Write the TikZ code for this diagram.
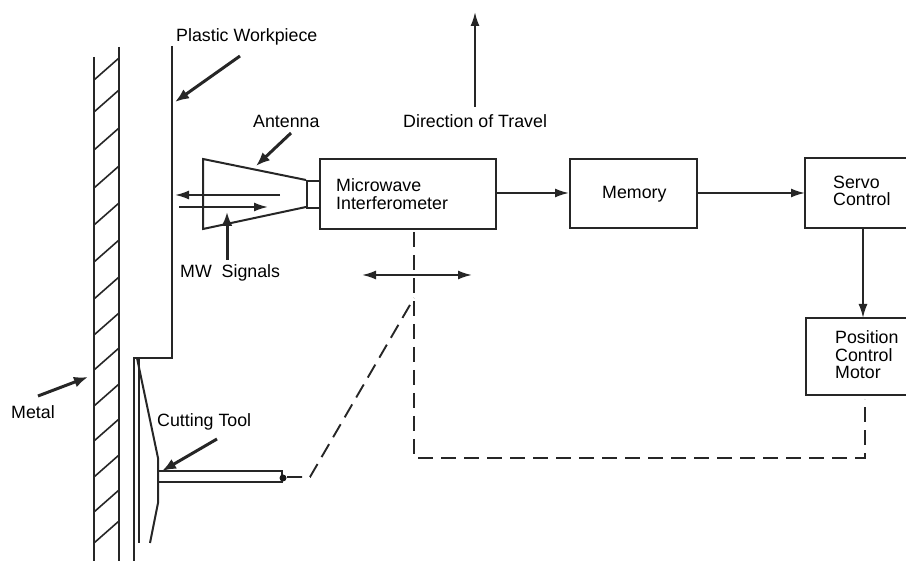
\documentclass[tikz,border=0pt]{standalone}
\usepackage{fontspec}
\setmainfont{Liberation Sans}
\usetikzlibrary{arrows.meta}
\tikzset{
 every picture/.style={x=1pt,y=-1pt},
 ln/.style={line width=2pt,black!85},
 hatchln/.style={line width=1.6pt,black!85},
 lead/.style={line width=3pt,black!85,-{Latex[length=14pt,width=11pt]}},
 sig/.style={line width=1.9pt,black!85,-{Latex[length=14pt,width=9pt]}},
 sigb/.style={line width=1.9pt,black!85,{Latex[length=14pt,width=9pt]}-{Latex[length=14pt,width=9pt]}},
 blockbox/.style={draw=black!85,line width=2.2pt,fill=white,inner sep=0pt,anchor=north west},
 dsh/.style={line width=1.9pt,black!85,dash pattern=on 15pt off 8pt},
 lab/.style={font=\fontsize{17.8}{17.5}\selectfont,text=black,inner sep=0pt,align=left}
}
\begin{document}
\begin{tikzpicture}
\useasboundingbox (0,0) rectangle (906,561);
% metal
\draw[ln] (94,57) -- (94,561);
\draw[ln] (119,47) -- (119,561);
\foreach \y in {80,112,150,188,225,262,299,335,370,406,441,477,512,543}
  \draw[hatchln] (94,\y) -- (119,\y-22);
% workpiece
\coordinate (wt) at (172,46);
\draw[ln] (wt) -- (172,358) -- (134,358) -- (134,561);
% tool
\draw[ln] (139,358) -- (139,543);
\draw[ln] (137,358) -- (158,458) -- (158,503) -- (150,543);
\draw[ln] (158,471) -- (282,471) -- (282,482) -- (158,482);
\fill[black!90] (283,478) circle (3.5pt);
% antenna
\coordinate (a1) at (203,159);
\coordinate (a2) at (203,229);
\coordinate (a3) at (306,180);
\coordinate (a4) at (306,207);
\draw[ln] (a3) -- (a1) -- (a2) -- (a4);
\node[blockbox,minimum width=13pt,minimum height=27pt] (neck) at (306,180) {};
% boxes
\node[blockbox,minimum width=176pt,minimum height=70pt] (mi) at (319,158) {};
\node[blockbox,minimum width=127pt,minimum height=69pt] (mem) at (569,158) {};
\draw[line width=2.2pt,black!85] (906,158) -- (805,158) -- (805,228) -- (906,228);
\draw[line width=2.2pt,black!85] (906,318) -- (806,318) -- (806,395) -- (906,395);
\coordinate (sc) at (805,193);
\coordinate (scb) at (863,228);
\coordinate (pt) at (863,318);
\coordinate (pb) at (865,399);
% labels
\node[lab,anchor=west] (t1) at (176,37) {Plastic Workpiece};
\node[lab,anchor=west] (t2) at (253,121) {Antenna};
\node[lab,anchor=west] (t3) at (403,121) {Direction of Travel};
\node[lab,anchor=west] (t4) at (180,273) {MW\ \ Signals};
\node[lab,anchor=west] (t5) at (157,422) {Cutting Tool};
\node[lab,anchor=west] (t6) at (11,412) {Metal};
\node[lab,anchor=west] (t7) at (336,194) {Microwave\\Interferometer};
\node[lab,anchor=west] (t8) at (602,194) {Memory};
\node[lab,anchor=west] (t9) at (833,191) {Servo\\Control};
\node[lab,anchor=west] (t10) at (835,355) {Position\\Control\\Motor};
% leaders
\draw[lead] (240,56) -- (175,102);
\draw[lead] (291,133) -- (256,166);
\draw[lead] (227,260) -- (227,212);
\draw[lead] (217,439) -- (162,471);
\draw[lead] (38,396) -- (88,377);
\draw[sig] (475,107) -- (475,12);
% signals
\draw[sig] (280,195) -- (175,195);
\draw[sig] (179,207) -- (268,207);
% connectors
\draw[sig] (mi.east |- 0,193) -- (mem.west |- 0,193);
\draw[sig] (mem.east |- 0,193) -- (sc);
\draw[sig] (scb) -- (pt);
\draw[sigb] (362,275) -- (472,275);
% dashed
\coordinate (j) at (414,298);
\draw[dsh] (414,232) -- (414,458) -- (865,458) -- (pb);
\draw[dsh] (287,477) -- (310,477) -- (j);
\end{tikzpicture}
\end{document}
